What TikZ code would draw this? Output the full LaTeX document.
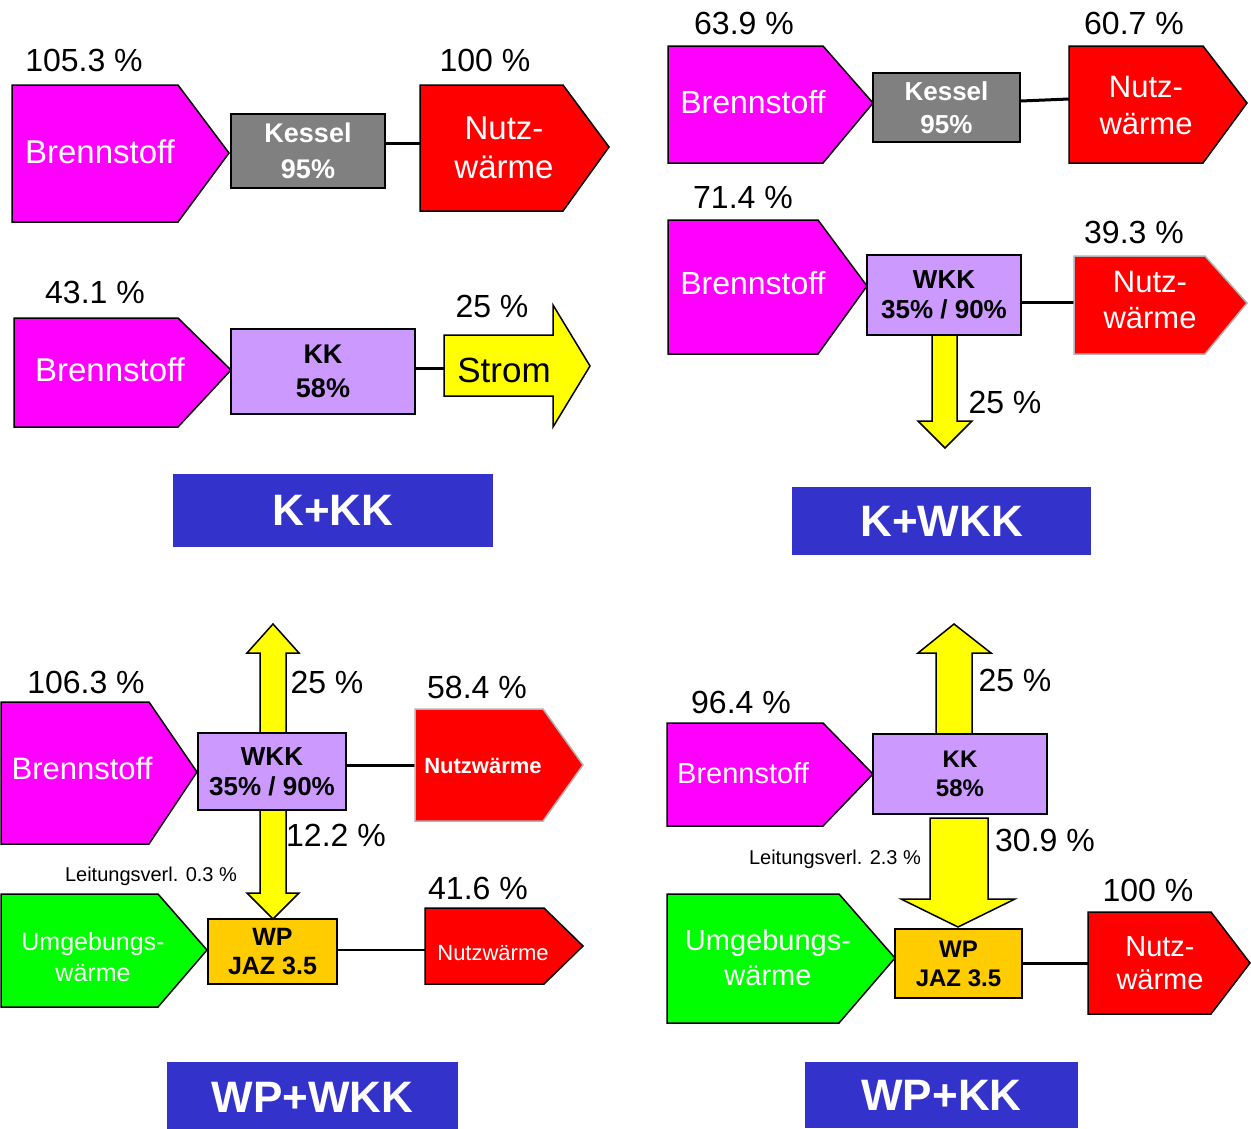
\documentclass[tikz,border=0pt]{standalone}
\usepackage{fontspec}
\setmainfont{Liberation Sans}
\usetikzlibrary{backgrounds}
\definecolor{mag}{HTML}{FF00FF}
\definecolor{rd}{HTML}{FF0000}
\definecolor{kgray}{HTML}{808080}
\definecolor{lav}{HTML}{CC99FF}
\definecolor{yel}{HTML}{FFFF00}
\definecolor{grn}{HTML}{00FF00}
\definecolor{orng}{HTML}{FFCC00}
\definecolor{titleblue}{HTML}{3333CC}
\tikzset{
  fs/.style 2 args={font=\fontsize{#1}{#2}\selectfont},
  fsb/.style 2 args={font=\bfseries\fontsize{#1}{#2}\selectfont},
  shp/.style={draw=black, line width=1.5pt, line join=miter},
  gshp/.style={draw=black!30, line width=1.5pt, line join=miter},
  conn/.style={draw=black, line width=3pt},
  thinconn/.style={draw=black, line width=1.5pt},
  pct/.style={font=\fontsize{32}{36}\selectfont, inner sep=0pt},
  small/.style={font=\fontsize{20}{24}\selectfont, inner sep=0pt},
  wtxt/.style={text=white, align=center, inner sep=0pt},
  unitbox/.style={draw=black, line width=1.5pt, inner sep=0pt, align=center},
  titlebox/.style={fill=titleblue, text=white, inner sep=0pt, font=\bfseries\fontsize{44}{48}\selectfont},
}
\begin{document}
\begin{tikzpicture}[x=1pt,y=-1pt]
\useasboundingbox (0,0) rectangle (1251,1128);
\clip (0,0) rectangle (1251,1128);
\begin{scope}[on background layer]
  \fill[white] (0,0) rectangle (1251,1128);
\end{scope}

% ================= Panel 1: K+KK =================
\node[pct] (pA1) at (84,60) {105.3 \%};
\draw[shp, fill=mag] (12,85) -- (178,85) -- (229,153) -- (178,222) -- (12,222) -- cycle;
\node[wtxt, fs={33}{38}] (brA) at (100,152) {Brennstoff};
\node[unitbox, fill=kgray, minimum width=154pt, minimum height=74pt, text=white, fsb={27}{36}] (kesA) at (308,151) {Kessel\\95\%};
\coordinate (nwAin) at (420,143);
\draw[conn] (kesA.east |- nwAin) -- (nwAin);
\draw[shp, fill=rd] (420,85) -- (563,85) -- (609,147) -- (563,211) -- (420,211) -- cycle;
\node[wtxt, fs={33}{39}] (nwA) at (504,148) {Nutz-\\wärme};
\node[pct] (pA2) at (485,60) {100 \%};

\node[pct] (pA3) at (95,292) {43.1 \%};
\draw[shp, fill=mag] (14,318) -- (178,318) -- (231,370) -- (178,427) -- (14,427) -- cycle;
\node[wtxt, fs={33}{38}] (brB) at (110,370) {Brennstoff};
\node[unitbox, fill=lav, minimum width=184pt, minimum height=85pt, fsb={27}{34}] (kkA) at (323,371.5) {KK\\58\%};
\coordinate (stromIn) at (444,368);
\draw[conn] (kkA.east |- stromIn) -- (stromIn);
\draw[shp, fill=yel] (444,335) -- (553,335) -- (553,305) -- (590,366) -- (553,427) -- (553,396) -- (444,396) -- cycle;
\node[fs={35}{40}, inner sep=0pt] (strom) at (504,370) {Strom};
\node[pct] (pA4) at (492,306) {25 \%};
\node[titlebox, minimum width=320pt, minimum height=73pt] (t1) at (333,510.5) {K+KK};

% ================= Panel 2: K+WKK =================
\node[pct] (pB1) at (744,23) {63.9 \%};
\draw[shp, fill=mag] (668,46) -- (823,46) -- (873,103) -- (823,163) -- (668,163) -- cycle;
\node[wtxt, fs={32}{37}] (brC) at (753,102) {Brennstoff};
\node[unitbox, fill=kgray, minimum width=147pt, minimum height=69pt, text=white, fsb={26}{33}] (kesB) at (946.5,107.5) {Kessel\\95\%};
\coordinate (nwBin) at (1069,99);
\draw[conn] ([yshift=6.5pt]kesB.east) -- (nwBin);
\draw[shp, fill=rd] (1069,46) -- (1203,46) -- (1247,103) -- (1203,163) -- (1069,163) -- cycle;
\node[wtxt, fs={31}{37}] (nwB) at (1146,105.5) {Nutz-\\wärme};
\node[pct] (pB2) at (1134,23) {60.7 \%};

\node[pct] (pB3) at (743,197) {71.4 \%};
\draw[shp, fill=mag] (668,220) -- (818,220) -- (867,286) -- (818,354) -- (668,354) -- cycle;
\node[wtxt, fs={32}{37}] (brD) at (753,283) {Brennstoff};
\node[unitbox, fill=lav, minimum width=154pt, minimum height=80pt, fsb={26}{30}] (wkkA) at (944,295) {WKK\\35\% / 90\%};
\coordinate (nwCin) at (1074,302);
\draw[conn] (wkkA.east |- nwCin) -- (nwCin);
\draw[gshp, fill=rd] (1074,256) -- (1205,256) -- (1247,303) -- (1205,354) -- (1074,354) -- cycle;
\node[wtxt, fs={31}{36}] (nwC) at (1150,300) {Nutz-\\wärme};
\node[pct] (pB4) at (1134,232) {39.3 \%};
\node[pct] (pB5) at (1005,402) {25 \%};
\node[titlebox, minimum width=299pt, minimum height=68pt] (t2) at (941.5,521) {K+WKK};

% ================= Panel 3: WP+WKK =================
\node[pct] (pC1) at (327,682) {25 \%};
\node[pct] (pC2) at (86,682) {106.3 \%};
\draw[shp, fill=mag] (1,702) -- (149,702) -- (197,772) -- (149,844) -- (1,844) -- cycle;
\node[wtxt, fs={31}{36}] (brE) at (82,768) {Brennstoff};
\node[unitbox, fill=lav, minimum width=148pt, minimum height=77pt, fsb={26}{30}] (wkkB) at (272,771.5) {WKK\\35\% / 90\%};
\coordinate (nwDin) at (415,765);
\draw[conn] (wkkB.east |- nwDin) -- (nwDin);
\draw[gshp, fill=rd] (415,709) -- (543,709) -- (583,765) -- (543,821) -- (415,821) -- cycle;
\node[wtxt, fsb={22}{26}] (nwD) at (483,766) {Nutzwärme};
\node[pct] (pC3) at (477,687) {58.4 \%};
\node[pct] (pC4) at (336,835) {12.2 \%};
\node[small] (lvA) at (151,876) {Leitungsverl. 0.3 \%};
\draw[shp, fill=grn] (1,894) -- (158,894) -- (207,950) -- (158,1007) -- (1,1007) -- cycle;
\node[wtxt, fs={25}{31}] (umA) at (93,957) {Umgebungs-\\wärme};
\node[unitbox, fill=orng, minimum width=129pt, minimum height=65pt, fsb={25}{29}] (wpA) at (272.5,951.5) {WP\\JAZ 3.5};
\coordinate (nwEin) at (425,950);
\draw[thinconn] (wpA.east |- nwEin) -- (nwEin);
\draw[shp, fill=rd] (425,908) -- (544,908) -- (583,946) -- (544,984) -- (425,984) -- cycle;
\node[wtxt, fs={22}{26}] (nwE) at (493,953) {Nutzwärme};
\node[pct] (pC5) at (478,888) {41.6 \%};
\node[titlebox, minimum width=291pt, minimum height=70pt] (t3) at (312.5,1097) {WP+WKK};

% ================= Panel 4: WP+KK =================
\node[pct] (pD1) at (1015,680) {25 \%};
\node[pct] (pD2) at (741,702) {96.4 \%};
\draw[shp, fill=mag] (667,723) -- (823,723) -- (873,774) -- (823,826) -- (667,826) -- cycle;
\node[wtxt, fs={29}{34}] (brF) at (743,773) {Brennstoff};
\node[unitbox, fill=lav, minimum width=174pt, minimum height=80pt, fsb={24}{29}] (kkB) at (960,774) {KK\\58\%};
\draw[shp, fill=yel] (930,818) -- (988,818) -- (988,899) -- (1015,899) -- (958,927) -- (901,899) -- (930,899) -- cycle;
\node[pct] (pD3) at (1045,840) {30.9 \%};
\node[small] (lvB) at (835,859) {Leitungsverl. 2.3 \%};
\draw[shp, fill=grn] (667,894) -- (839,894) -- (895,958) -- (839,1023) -- (667,1023) -- cycle;
\node[wtxt, fs={29}{35}] (umB) at (768,957.5) {Umgebungs-\\wärme};
\node[unitbox, fill=orng, minimum width=127pt, minimum height=69pt, fsb={24}{29}] (wpB) at (958.5,963.5) {WP\\JAZ 3.5};
\coordinate (nwFin) at (1088,963);
\draw[conn] (wpB.east |- nwFin) -- (nwFin);
\draw[shp, fill=rd] (1088,912) -- (1211,912) -- (1250,963) -- (1211,1014) -- (1088,1014) -- cycle;
\node[wtxt, fs={29}{33}] (nwF) at (1160,963.5) {Nutz-\\wärme};
\node[pct] (pD4) at (1148,890) {100 \%};
\node[titlebox, minimum width=273pt, minimum height=66pt] (t4) at (941.5,1095) {WP+KK};

% ================= vertical yellow arrows (behind boxes) =================
\begin{scope}[on background layer]
  % K+WKK: electricity down
  \draw[shp, fill=yel] (932,335) -- (932,421) -- (918,421) -- (945,448) -- (972,421) -- (957,421) -- (957,335);
  % WP+WKK: electricity up
  \draw[shp, fill=yel] (260,733) -- (260,653) -- (247,653) -- (273,624) -- (299,653) -- (286,653) -- (286,733);
  % WP+WKK: electricity down to heat pump
  \draw[shp, fill=yel] (260,810) -- (260,893) -- (247,893) -- (273,919) -- (299,893) -- (286,893) -- (286,810);
  % WP+KK: electricity up
  \draw[shp, fill=yel] (936,734) -- (936,653) -- (918,653) -- (954,624) -- (991,653) -- (972,653) -- (972,734);
\end{scope}
\end{tikzpicture}
\end{document}
